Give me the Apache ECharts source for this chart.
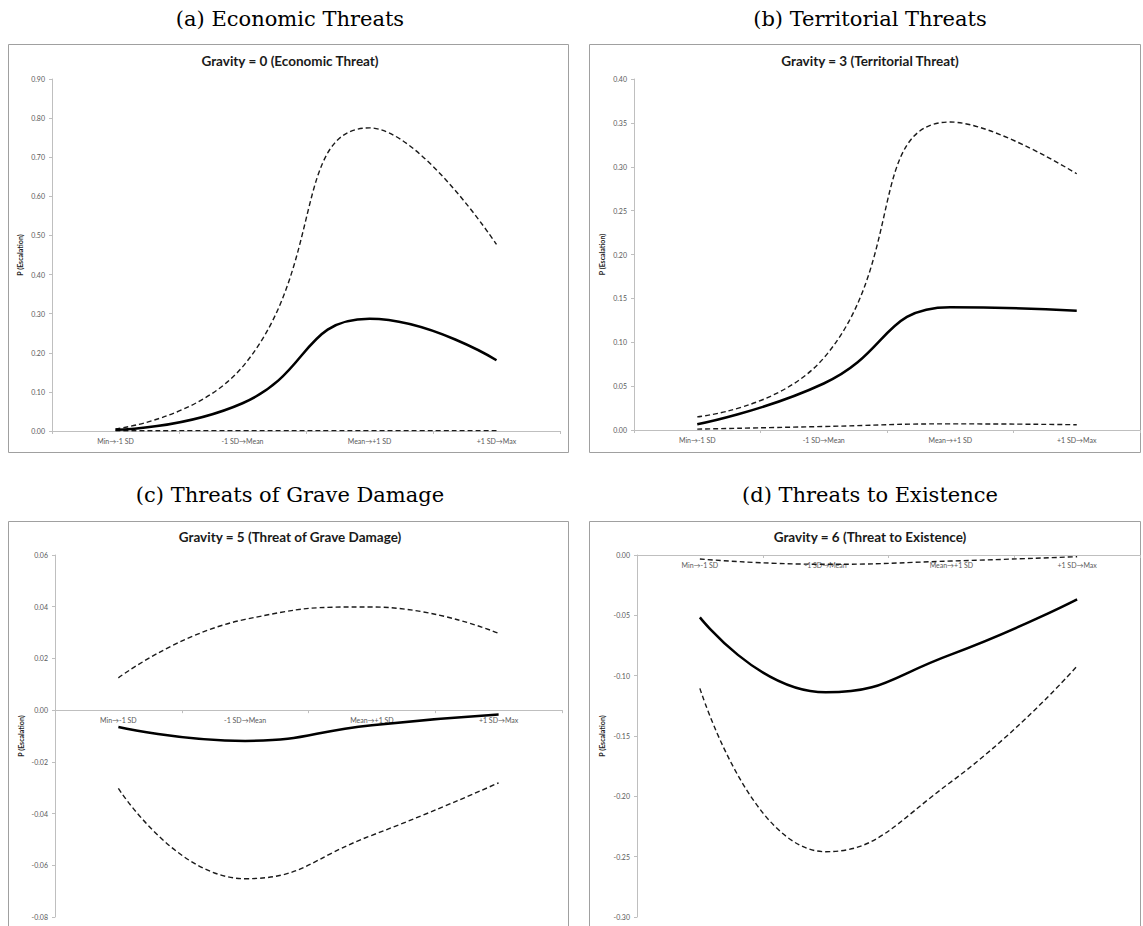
<!DOCTYPE html>
<html>
<head>
<meta charset="utf-8">
<script src="https://cdn.jsdelivr.net/npm/echarts@6/dist/echarts.min.js"></script>
<style>
html,body{margin:0;padding:0;background:#fff;}
#chart{width:1143px;height:926px;}
</style>
</head>
<body>
<div id="chart"></div>
<script>
// ---- Data ----
const categories = ['Min\u2192-1 SD', '-1 SD\u2192Mean', 'Mean\u2192+1 SD', '+1 SD\u2192Max'];

const subtitles = ['(a) Economic Threats', '(b) Territorial Threats', '(c) Threats of Grave Damage', '(d) Threats to Existence'];
const chartTitles = ['Gravity = 0 (Economic Threat)', 'Gravity = 3 (Territorial Threat)', 'Gravity = 5 (Threat of Grave Damage)', 'Gravity = 6 (Threat to Existence)'];
const yAxisName = 'P (Escalation)';

const econUpper = [0.005, 0.164, 0.775, 0.477];
const econMean  = [0.003, 0.071, 0.287, 0.181];
const econLower = [0.0005, 0.001, 0.001, 0.001];

const terrUpper = [0.015, 0.082, 0.351, 0.292];
const terrMean  = [0.0065, 0.053, 0.140, 0.136];
const terrLower = [0.001, 0.004, 0.007, 0.006];

const graveUpper = [0.0125, 0.0351, 0.0399, 0.0297];
const graveMean  = [-0.0065, -0.0119, -0.0058, -0.0017];
const graveLower = [-0.0303, -0.0652, -0.0484, -0.0281];

const existUpper = [-0.0033, -0.0077, -0.0050, -0.0014];
const existMean  = [-0.0517, -0.1138, -0.0823, -0.0367];
const existLower = [-0.1105, -0.2459, -0.1878, -0.0920];

const yMins = [0, 0, -0.08, -0.30];
const yMaxs = [0.90, 0.40, 0.06, 0];
const yIntervals = [0.10, 0.05, 0.02, 0.05];

const panelSeries = [
  [econUpper, econMean, econLower],
  [terrUpper, terrMean, terrLower],
  [graveUpper, graveMean, graveLower],
  [existUpper, existMean, existLower]
];

// ---- Layout (pixels) ----
const grids = [
  {left: 52,  top: 79,  width: 508, height: 352},
  {left: 634, top: 79,  width: 506, height: 351},
  {left: 55,  top: 555, width: 507, height: 362},
  {left: 637, top: 555, width: 503, height: 362}
];
const frames = [
  {x: 8.5, y: 44.5, w: 560, h: 408},
  {x: 589.5, y: 44.5, w: 551, h: 408},
  {x: 8.5, y: 521.5, w: 560, h: 420},
  {x: 589.5, y: 521.5, w: 551, h: 420}
];
const centersX = [290, 870, 290, 870];
const subY = [19, 19, 495, 495];
const titleY = [61, 61, 537, 537];
const nameGaps = [29, 29, 31, 32];
const uiFont = 'Lato, "Open Sans", sans-serif';

const chart = echarts.init(document.getElementById('chart'), null, {renderer: 'svg'});

const graphic = [];
frames.forEach(f => graphic.push({
  type: 'rect', shape: {x: f.x, y: f.y, width: f.w, height: f.h},
  style: {fill: 'none', stroke: '#a0a0a0', lineWidth: 1}, silent: true, z: 0
}));
for (let i = 0; i < 4; i++) {
  graphic.push({
    type: 'text', x: centersX[i], y: subY[i],
    style: {text: subtitles[i], font: '21px "DejaVu Serif"', fill: '#000', textAlign: 'center', textVerticalAlign: 'middle'}
  });
  graphic.push({
    type: 'text', x: centersX[i], y: titleY[i],
    style: {text: chartTitles[i], font: 'bold 13.5px ' + uiFont, fill: '#1a1a1a', textAlign: 'center', textVerticalAlign: 'middle'}
  });
}

const xAxes = [], yAxes = [], series = [];
for (let i = 0; i < 4; i++) {
  // place the category axis on the zero line (labels follow it)
  const zeroOffset = -grids[i].height * (0 - yMins[i]) / (yMaxs[i] - yMins[i]);
  xAxes.push({
    type: 'category', gridIndex: i, data: categories, boundaryGap: true,
    position: 'bottom', offset: zeroOffset,
    axisLine: {onZero: false, lineStyle: {color: '#bfbfbf', width: 1}},
    axisTick: {show: true, length: 3, lineStyle: {color: '#bfbfbf'}},
    axisLabel: {fontSize: 7, color: '#595959', margin: 6, fontFamily: uiFont, interval: 0},
    splitLine: {show: false}
  });
  yAxes.push({
    type: 'value', gridIndex: i, min: yMins[i], max: yMaxs[i], interval: yIntervals[i],
    name: yAxisName, nameLocation: 'middle', nameGap: nameGaps[i],
    nameTextStyle: {fontSize: 7, fontWeight: 'bold', color: '#222', fontFamily: uiFont},
    axisLine: {show: true, onZero: false, lineStyle: {color: '#bfbfbf', width: 1}},
    axisTick: {show: true, length: 3, lineStyle: {color: '#bfbfbf'}},
    axisLabel: {fontSize: 7, color: '#595959', margin: 7, fontFamily: uiFont,
      formatter: v => v.toFixed(2)},
    splitLine: {show: false}
  });
  const [up, mean, low] = panelSeries[i];
  const dashed = {color: '#1a1a1a', width: 1.4, type: [5, 3]};
  series.push({type: 'line', xAxisIndex: i, yAxisIndex: i, data: up, smooth: 0.5, showSymbol: false, lineStyle: dashed, z: 3});
  series.push({type: 'line', xAxisIndex: i, yAxisIndex: i, data: mean, smooth: 0.5, showSymbol: false, lineStyle: {color: '#000', width: 2.5}, z: 4});
  series.push({type: 'line', xAxisIndex: i, yAxisIndex: i, data: low, smooth: 0.5, showSymbol: false, lineStyle: dashed, z: 3});
}

chart.setOption({
  animation: false,
  backgroundColor: '#fff',
  grid: grids.map(g => Object.assign({containLabel: false}, g)),
  xAxis: xAxes,
  yAxis: yAxes,
  series: series,
  graphic: graphic
});
</script>
</body>
</html>
